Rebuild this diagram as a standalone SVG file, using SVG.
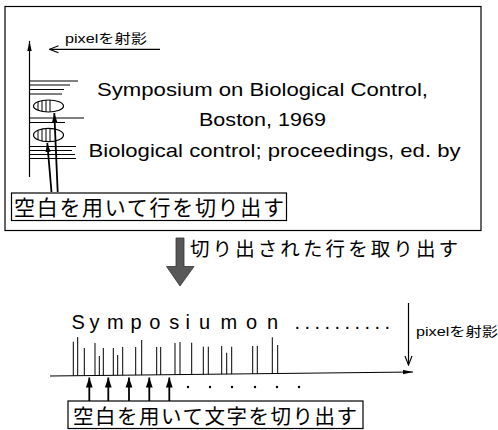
<svg xmlns="http://www.w3.org/2000/svg" width="498" height="430" viewBox="0 0 498 430">
<style>
  .ln{stroke:#000;stroke-width:1.2;fill:none}
  .th{stroke:#000;stroke-width:1;fill:none}
  .bold{stroke:#000;stroke-width:1.8;fill:none}
  .en{font-family:"Liberation Sans","Noto Sans CJK JP",sans-serif;fill:#000}
  .jp{font-family:"Noto Sans CJK JP","Liberation Sans",sans-serif;fill:#000}
</style>
<defs>
  <marker id="tri" markerUnits="userSpaceOnUse" markerWidth="10" markerHeight="8" refX="10" refY="4" orient="auto"><path d="M0,0.6 L10,4 L0,7.4 z" fill="#000"/></marker>
  <marker id="tri2" markerUnits="userSpaceOnUse" markerWidth="9" markerHeight="6" refX="9" refY="3" orient="auto"><path d="M0,0.4 L9,3 L0,5.6 z" fill="#000"/></marker>
  <marker id="narrow" markerUnits="userSpaceOnUse" markerWidth="10" markerHeight="5" refX="10" refY="2.5" orient="auto"><path d="M0,0.3 L10,2.5 L0,4.7 z" fill="#000"/></marker>
  <marker id="vee" markerUnits="userSpaceOnUse" markerWidth="11" markerHeight="9" refX="10" refY="4.5" orient="auto"><path d="M1,1 L10,4.5 L1,8" fill="none" stroke="#000" stroke-width="1.1"/></marker>
  <clipPath id="c1"><ellipse cx="48.5" cy="106" rx="15" ry="6"/></clipPath>
  <clipPath id="c2"><ellipse cx="48.5" cy="135" rx="15" ry="6.7"/></clipPath>
</defs>
<rect width="498" height="430" fill="#fff"/>

<!-- Top panel: line projection -->
<g id="top-panel">
  <rect class="ln" x="5" y="6.5" width="476" height="224" stroke-width="1.4"/>
  <g id="row-histogram">
    <line class="th" x1="30" y1="81" x2="78" y2="81"/>
    <line class="th" x1="30" y1="85" x2="70" y2="85"/>
    <line class="th" x1="30" y1="89.5" x2="64" y2="89.5"/>
    <line class="th" x1="30" y1="94" x2="62" y2="94"/>
    <line class="th" x1="30" y1="118" x2="84" y2="118"/>
    <line class="th" x1="30" y1="122.5" x2="65" y2="122.5"/>
    <line class="th" x1="30" y1="146.5" x2="76" y2="146.5"/>
    <line class="th" x1="30" y1="150.5" x2="72" y2="150.5"/>
    <line class="th" x1="30" y1="154.5" x2="75" y2="154.5"/>
    <line class="th" x1="30" y1="158.5" x2="76" y2="158.5"/>
  </g>
  <g id="gap-1">
    <ellipse class="ln" cx="48.5" cy="106" rx="15" ry="6"/>
    <g clip-path="url(#c1)" class="th">
      <line x1="38" y1="98" x2="38" y2="114"/><line x1="42" y1="98" x2="42" y2="114"/>
      <line x1="46" y1="98" x2="46" y2="114"/><line x1="50" y1="98" x2="50" y2="114"/>
    </g>
  </g>
  <g id="gap-2">
    <ellipse class="ln" cx="48.5" cy="135" rx="15" ry="6.7"/>
    <g clip-path="url(#c2)" class="th">
      <line x1="38" y1="126" x2="38" y2="144"/><line x1="42" y1="126" x2="42" y2="144"/>
      <line x1="46" y1="126" x2="46" y2="144"/><line x1="50" y1="126" x2="50" y2="144"/>
    </g>
  </g>
  <text class="en" x="65" y="42.5" font-size="13" textLength="82" lengthAdjust="spacingAndGlyphs">pixelを射影</text>
  <g id="document-text">
    <text class="en" x="97" y="95.5" font-size="19" textLength="331" lengthAdjust="spacingAndGlyphs">Symposium on Biological Control,</text>
    <text class="en" x="199" y="125.5" font-size="19" textLength="127" lengthAdjust="spacingAndGlyphs">Boston, 1969</text>
    <text class="en" x="88.5" y="157" font-size="19" textLength="372" lengthAdjust="spacingAndGlyphs">Biological control; proceedings, ed. by</text>
  </g>
  <g id="row-cut-label">
    <rect class="ln" x="11.5" y="193" width="275" height="27.5"/>
    <text class="jp" x="14" y="215" font-size="21" textLength="270" lengthAdjust="spacing">空白を用いて行を切り出す</text>
  </g>
</g>

<!-- Transition arrow -->
<g id="extract-step">
  <path d="M176,238 L184,238 L184,266.5 L194,266.5 L180,286 L166.5,266.5 L176,266.5 z" fill="#585858" stroke="#333" stroke-width="0.8"/>
  <text class="jp" x="190" y="256" font-size="19.5" textLength="268" lengthAdjust="spacing">切り出された行を取り出す</text>
</g>

<!-- Lower panel: character projection -->
<g id="bottom-panel">
  <text class="en" y="329" font-size="20"><tspan x="71.5 89.5 107 130.5 149.3 169.3 185.5 199 220.5">Symposium</tspan> <tspan x="246 267">on</tspan> <tspan x="294.5 304.5 314.5 324.5 334.5 344.5 354.5 364.5 374.5 384.5">..........</tspan></text>
  <g id="column-histogram" class="th">
    <line x1="73.3" y1="341.7" x2="73.3" y2="375.7"/>
    <line x1="77.7" y1="337" x2="77.7" y2="375.7"/>
    <line x1="84.3" y1="348" x2="84.3" y2="375.6"/>
    <line x1="95" y1="343" x2="95" y2="375.5"/>
    <line x1="99.3" y1="356" x2="99.3" y2="375.5"/>
    <line x1="103.3" y1="348" x2="103.3" y2="375.4"/>
    <line x1="113.3" y1="348" x2="113.3" y2="375.3"/>
    <line x1="117.7" y1="355" x2="117.7" y2="375.3"/>
    <line x1="122.7" y1="347" x2="122.7" y2="375.2"/>
    <line x1="135.7" y1="347" x2="135.7" y2="375.1"/>
    <line x1="141.7" y1="340" x2="141.7" y2="375"/>
    <line x1="156.7" y1="347" x2="156.7" y2="374.8"/>
    <line x1="160.7" y1="347" x2="160.7" y2="374.8"/>
    <line x1="175" y1="343" x2="175" y2="374.6"/>
    <line x1="180" y1="342" x2="180" y2="374.6"/>
    <line x1="191.7" y1="342.7" x2="191.7" y2="374.4"/>
    <line x1="203.3" y1="346.7" x2="203.3" y2="374.3"/>
    <line x1="208.3" y1="346.7" x2="208.3" y2="374.3"/>
    <line x1="221.7" y1="346" x2="221.7" y2="374.1"/>
    <line x1="226.7" y1="352.7" x2="226.7" y2="374.1"/>
    <line x1="231.7" y1="346.7" x2="231.7" y2="374"/>
    <line x1="252.7" y1="346" x2="252.7" y2="373.8"/>
    <line x1="257.3" y1="346" x2="257.3" y2="373.7"/>
    <line x1="272.3" y1="337.3" x2="272.3" y2="373.6"/>
    <line x1="277.7" y1="345" x2="277.7" y2="373.5"/>
  </g>
  <g id="dots" fill="#000">
    <circle cx="188" cy="387" r="1.2"/><circle cx="210" cy="387" r="1.2"/>
    <circle cx="232" cy="387" r="1.2"/><circle cx="255" cy="387" r="1.2"/>
    <circle cx="277" cy="387" r="1.2"/><circle cx="299" cy="387" r="1.2"/>
  </g>
  <text class="en" x="416" y="336" font-size="13" textLength="82" lengthAdjust="spacingAndGlyphs">pixelを射影</text>
  <g id="char-cut-label">
    <rect class="ln" x="68" y="401" width="295" height="27.5"/>
    <text class="jp" x="73" y="424" font-size="20.5" textLength="284" lengthAdjust="spacing">空白を用いて文字を切り出す</text>
  </g>
</g>

<!-- Connectors -->
<g id="connectors">
  <line class="ln" x1="29.5" y1="177" x2="29.5" y2="41" marker-end="url(#narrow)"/>
  <line class="ln" x1="160" y1="49.3" x2="49.5" y2="49.3" marker-end="url(#vee)"/>
  <line class="bold" x1="57.7" y1="192" x2="54.3" y2="113" marker-end="url(#tri2)"/>
  <line class="bold" x1="51.5" y1="192" x2="47.3" y2="143" marker-end="url(#tri2)"/>
  <line class="ln" x1="50" y1="376" x2="413" y2="372" marker-end="url(#narrow)"/>
  <line class="ln" x1="408.5" y1="303" x2="408.5" y2="365" marker-end="url(#vee)"/>
  <line class="bold" x1="89.3" y1="401" x2="89.3" y2="377.5" marker-end="url(#tri)"/>
  <line class="bold" x1="108.3" y1="401" x2="108.3" y2="377.5" marker-end="url(#tri)"/>
  <line class="bold" x1="129" y1="401" x2="129" y2="377.5" marker-end="url(#tri)"/>
  <line class="bold" x1="149.3" y1="401" x2="149.3" y2="377.5" marker-end="url(#tri)"/>
  <line class="bold" x1="169.3" y1="401" x2="169.3" y2="377.5" marker-end="url(#tri)"/>
</g>
</svg>
